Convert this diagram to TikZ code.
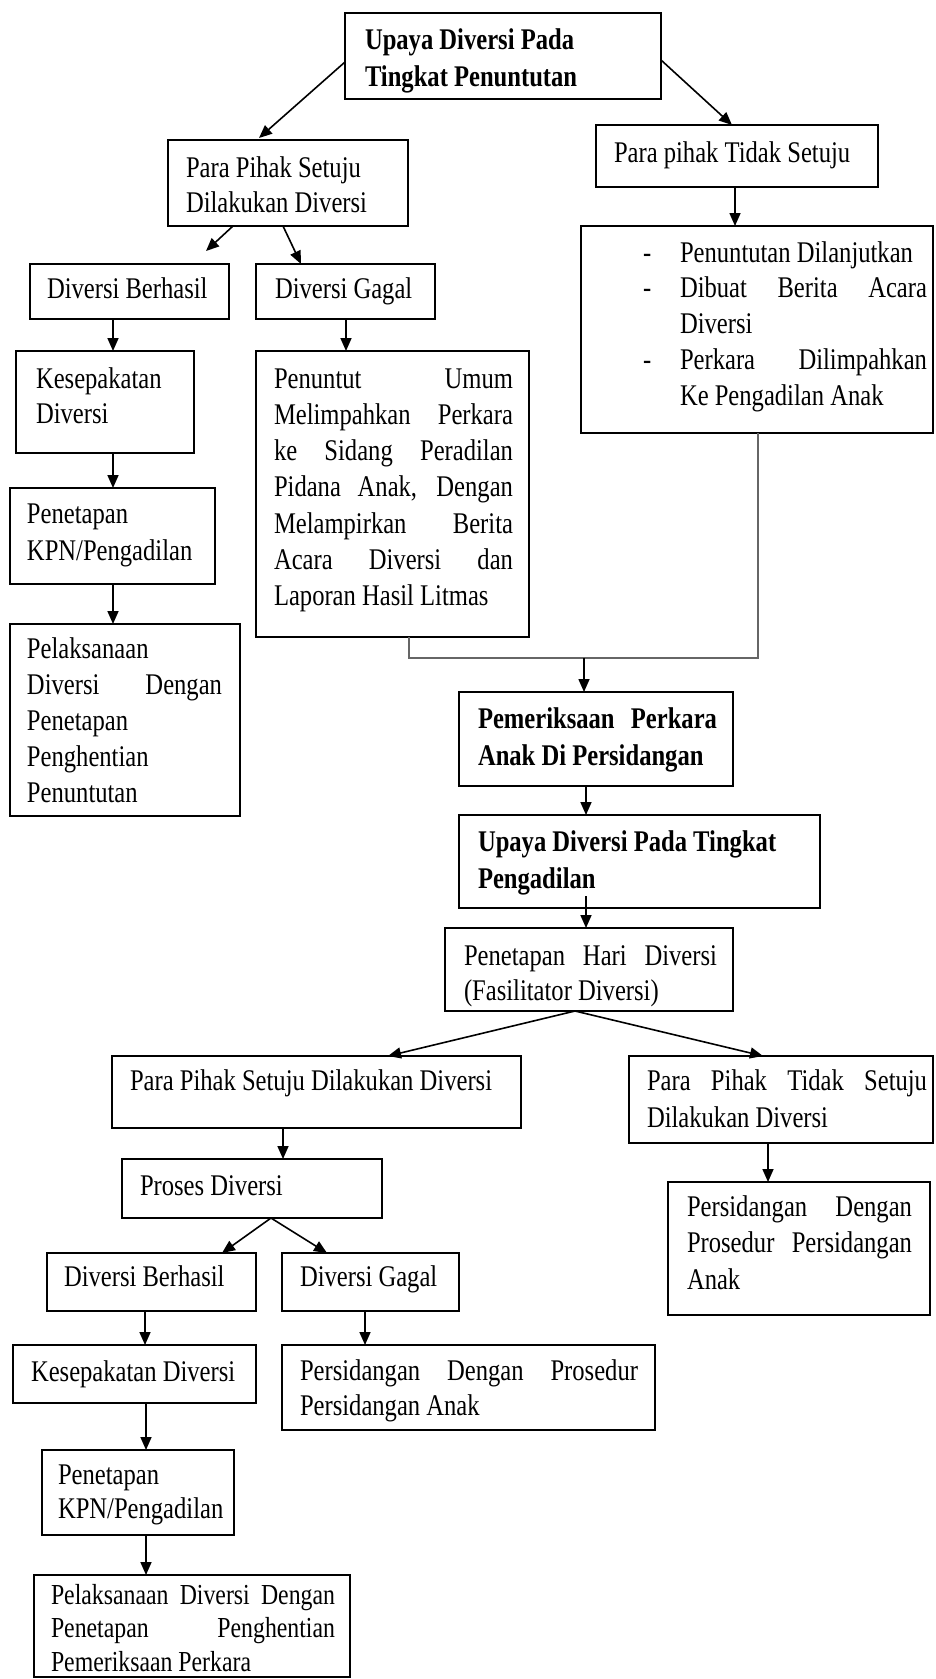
\documentclass[tikz,border=0pt]{standalone}
\usepackage{fontspec}
\setmainfont{Liberation Serif}[FakeStretch=0.82]
\usetikzlibrary{arrows.meta,calc}
\newcommand\myst{\rule{0pt}{25pt}}
\newcommand\jst[2]{\makebox[#1pt][s]{#2}}
\newcommand\dsh{\makebox[37pt][l]{-}}
\tikzset{
  box/.style={draw, line width=1.7pt, rectangle, inner sep=0pt, outer sep=0pt, anchor=north west},
  txt/.style={inner sep=0pt, outer sep=0pt, anchor=north west, align=left, font=\fontsize{30}{35}\selectfont},
  btxt/.style={txt, font=\fontsize{30}{37}\selectfont\bfseries},
  arr/.style={-{Triangle[length=13pt,width=11pt]}, line width=1.6pt},
  conn/.style={line width=1.8pt, draw=black!60}
}
\begin{document}
\begin{tikzpicture}[x=1pt,y=-1pt]
\useasboundingbox (0,0) rectangle (935,1679);
% boxes
\node[box, minimum width=316pt, minimum height=86pt] (top) at (345,13) {};
\node[box, minimum width=240pt, minimum height=86pt] (pps) at (168,140) {};
\node[box, minimum width=282pt, minimum height=62pt] (pts) at (596,125) {};
\node[box, minimum width=352pt, minimum height=207pt] (list) at (581,226) {};
\node[box, minimum width=199pt, minimum height=55pt] (db1) at (30,264) {};
\node[box, minimum width=179pt, minimum height=55pt] (dg1) at (256,264) {};
\node[box, minimum width=178pt, minimum height=102pt] (kd1) at (16,351) {};
\node[box, minimum width=273pt, minimum height=286pt] (pu) at (256,351) {};
\node[box, minimum width=205pt, minimum height=96pt] (pk1) at (10,488) {};
\node[box, minimum width=230pt, minimum height=192pt] (pd1) at (10,624) {};
\node[box, minimum width=274pt, minimum height=94pt] (pm) at (459,692) {};
\node[box, minimum width=361pt, minimum height=93pt] (up2) at (459,815) {};
\node[box, minimum width=288pt, minimum height=83pt] (ph) at (445,928) {};
\node[box, minimum width=409pt, minimum height=72pt] (ps2) at (112,1056) {};
\node[box, minimum width=304pt, minimum height=87pt] (pt2) at (629,1056) {};
\node[box, minimum width=260pt, minimum height=59pt] (pr) at (122,1159) {};
\node[box, minimum width=262pt, minimum height=133pt] (pd2) at (668,1182) {};
\node[box, minimum width=209pt, minimum height=58pt] (db2) at (47,1253) {};
\node[box, minimum width=177pt, minimum height=58pt] (dg2) at (282,1253) {};
\node[box, minimum width=243pt, minimum height=58pt] (kd2) at (13,1345) {};
\node[box, minimum width=373pt, minimum height=85pt] (ps3) at (282,1345) {};
\node[box, minimum width=192pt, minimum height=85pt] (pk2) at (42,1450) {};
\node[box, minimum width=316pt, minimum height=102pt] (pl2) at (34,1575) {};
% texts
\node[btxt] (t-top) at (365,24) {\myst Upaya Diversi Pada\\Tingkat Penuntutan};
\node[txt] (t-pps) at (186,152) {\myst Para Pihak Setuju\\Dilakukan Diversi};
\node[txt] (t-pts) at (614,137) {\myst Para pihak Tidak Setuju};
\node[txt, font=\fontsize{30}{35.8}\selectfont] (t-list) at (643,237) {\myst\dsh Penuntutan Dilanjutkan\\
  \dsh\jst{247}{Dibuat Berita Acara}\\
  \hspace*{37pt}Diversi\\
  \dsh\jst{247}{Perkara Dilimpahkan}\\
  \hspace*{37pt}Ke Pengadilan Anak};
\node[txt] (t-db1) at (47,273) {\myst Diversi Berhasil};
\node[txt] (t-dg1) at (275,273) {\myst Diversi Gagal};
\node[txt] (t-kd1) at (36,363) {\myst Kesepakatan\\Diversi};
\node[txt, font=\fontsize{30}{36.3}\selectfont] (t-pu) at (274,363) {\myst\jst{239}{Penuntut Umum}\\
  \jst{239}{Melimpahkan Perkara}\\
  \jst{239}{ke Sidang Peradilan}\\
  \jst{239}{Pidana Anak, Dengan}\\
  \jst{239}{Melampirkan Berita}\\
  \jst{239}{Acara Diversi dan}\\
  Laporan Hasil Litmas};
\node[txt, font=\fontsize{30}{37}\selectfont] (t-pk1) at (27,498) {\myst Penetapan\\KPN/Pengadilan};
\node[txt, font=\fontsize{30}{36.2}\selectfont] (t-pd1) at (27,633) {\myst Pelaksanaan\\
  \jst{195}{Diversi Dengan}\\
  Penetapan\\
  Penghentian\\
  Penuntutan};
\node[btxt] (t-pm) at (478,703) {\myst\jst{239}{Pemeriksaan Perkara}\\Anak Di Persidangan};
\node[btxt] (t-up2) at (478,826) {\myst Upaya Diversi Pada Tingkat\\Pengadilan};
\node[txt] (t-ph) at (464,940) {\myst\jst{253}{Penetapan Hari Diversi}\\(Fasilitator Diversi)};
\node[txt] (t-ps2) at (130,1065) {\myst Para Pihak Setuju Dilakukan Diversi};
\node[txt, font=\fontsize{30}{37}\selectfont] (t-pt2) at (647,1065) {\myst\jst{280}{Para Pihak Tidak Setuju}\\Dilakukan Diversi};
\node[txt] (t-pr) at (140,1170) {\myst Proses Diversi};
\node[txt, font=\fontsize{30}{36.5}\selectfont] (t-pd2) at (687,1191) {\myst\jst{225}{Persidangan Dengan}\\
  \jst{225}{Prosedur Persidangan}\\
  Anak};
\node[txt] (t-db2) at (64,1261) {\myst Diversi Berhasil};
\node[txt] (t-dg2) at (300,1261) {\myst Diversi Gagal};
\node[txt] (t-kd2) at (31,1356) {\myst Kesepakatan Diversi};
\node[txt] (t-ps3) at (300,1355) {\myst\jst{338}{Persidangan Dengan Prosedur}\\Persidangan Anak};
\node[txt, font=\fontsize{30}{34}\selectfont] (t-pk2) at (58,1459) {\myst Penetapan\\KPN/Pengadilan};
\node[txt, font=\fontsize{29}{33.5}\selectfont] (t-pl2) at (51,1579) {\myst\jst{284}{Pelaksanaan Diversi Dengan}\\
  \jst{284}{Penetapan Penghentian}\\
  Pemeriksaan Perkara};
% connectors
\draw[arr] ([yshift=-6pt]top.west) -- ([xshift=91pt,yshift=2pt]pps.north west);
\draw[arr] ([yshift=-4pt]top.east) -- ([xshift=136pt]pts.north west);
\draw[arr] ([xshift=139pt]pts.south west) -- ([xshift=154pt]list.north west);
\draw[arr] ([xshift=65pt]pps.south west) -- ([xshift=176pt,yshift=13pt]db1.north west);
\draw[arr] ([xshift=115pt]pps.south west) -- ([xshift=45pt]dg1.north west);
\draw[arr] ([xshift=83pt]db1.south west) -- ([xshift=97pt]kd1.north west);
\draw[arr] ([xshift=90pt]dg1.south west) -- ([xshift=90pt]pu.north west);
\draw[arr] ([xshift=97pt]kd1.south west) -- ([xshift=103pt]pk1.north west);
\draw[arr] ([xshift=103pt]pk1.south west) -- ([xshift=103pt]pd1.north west);
\coordinate (j) at (584,658);
\draw[conn] ([xshift=153pt]pu.south west) |- (j) -| ([xshift=177pt]list.south west);
\draw[arr] (j) -- (j |- pm.north);
\draw[arr] ([xshift=127pt]pm.south west) -- ([xshift=127pt]up2.north west);
\draw[arr] ([xshift=127pt,yshift=12pt]up2.south west) -- ([xshift=141pt]ph.north west);
\draw[arr] ([xshift=130pt]ph.south west) -- ([xshift=276pt]ps2.north west);
\draw[arr] ([xshift=130pt]ph.south west) -- ([xshift=134pt]pt2.north west);
\draw[arr] ([xshift=171pt]ps2.south west) -- ([xshift=161pt]pr.north west);
\draw[arr] ([xshift=139pt]pt2.south west) -- ([xshift=100pt]pd2.north west);
\draw[arr] ([xshift=149pt]pr.south west) -- ([xshift=175pt]db2.north west);
\draw[arr] ([xshift=149pt]pr.south west) -- ([xshift=45pt]dg2.north west);
\draw[arr] ([xshift=98pt]db2.south west) -- ([xshift=132pt]kd2.north west);
\draw[arr] ([xshift=83pt]dg2.south west) -- ([xshift=83pt]ps3.north west);
\draw[arr] ([xshift=133pt]kd2.south west) -- ([xshift=104pt]pk2.north west);
\draw[arr] ([xshift=104pt]pk2.south west) -- ([xshift=112pt]pl2.north west);
\end{tikzpicture}
\end{document}
